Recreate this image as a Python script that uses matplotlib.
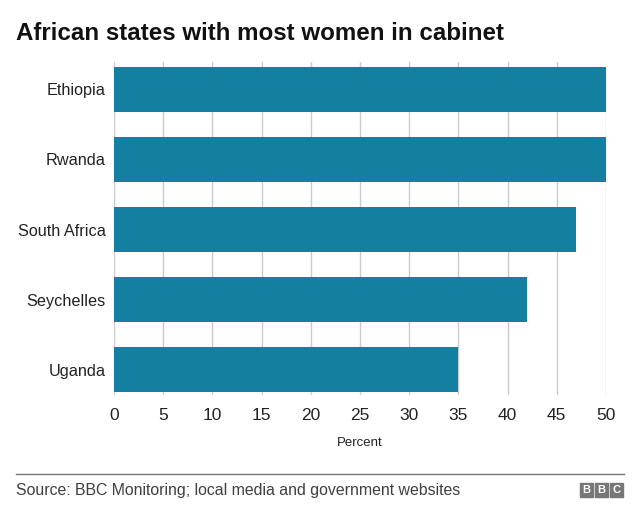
import matplotlib
matplotlib.use("Agg")
import matplotlib.pyplot as plt
from matplotlib.patches import Rectangle

countries = ["Ethiopia", "Rwanda", "South Africa", "Seychelles", "Uganda"]
values = [50, 50, 47, 42, 35]
xticks = [0, 5, 10, 15, 20, 25, 30, 35, 40, 45, 50]

plt.rcParams['font.family'] = ['Liberation Sans', 'DejaVu Sans']

fig = plt.figure(figsize=(6.4, 5.18), dpi=100)
ax = fig.add_axes([114/640, 1-395/518, (606-114)/640, (395-62)/518])

ypos = list(range(len(countries)))
ax.barh(ypos, values, height=0.643, color="#1380A1", zorder=2)
ax.set_ylim(4.36, -0.39)
ax.set_xlim(0, 50)
ax.set_xticks(xticks)
ax.set_xticklabels([str(t) for t in xticks], fontsize=12.5, color="#222222")
ax.set_yticks(ypos)
ax.set_yticklabels(countries, fontsize=11.7, color="#222222")
ax.tick_params(axis='x', length=0, pad=9)
ax.tick_params(axis='y', length=0, pad=6)
ax.grid(axis='x', color="#cbcbcb", linewidth=1, zorder=0)
for s in ax.spines.values():
    s.set_visible(False)
ax.set_xlabel("Percent", fontsize=9.5, color="#222222", labelpad=10.5)

fig.text(16/640, 1-33/518, "African states with most women in cabinet",
         fontsize=17.4, fontweight='bold', color="#111111", va='center', ha='left')

fig.add_artist(plt.Line2D([16/640, 624/640], [1-474/518, 1-474/518],
                          color="#777777", linewidth=1))
fig.text(16/640, 1-490/518, "Source: BBC Monitoring; local media and government websites",
         fontsize=11.4, color="#404040", va='center', ha='left')

# BBC logo
for i, ch in enumerate("BBC"):
    x0 = 580 + i * 15
    fig.add_artist(Rectangle((x0/640, 1-497/518), 13/640, 14/518,
                             transform=fig.transFigure, color="#777777"))
    fig.text((x0 + 6.5)/640, 1-490/518, ch, fontsize=8, fontweight='bold',
             color="white", ha='center', va='center')

fig.savefig("out.png", dpi=100)
